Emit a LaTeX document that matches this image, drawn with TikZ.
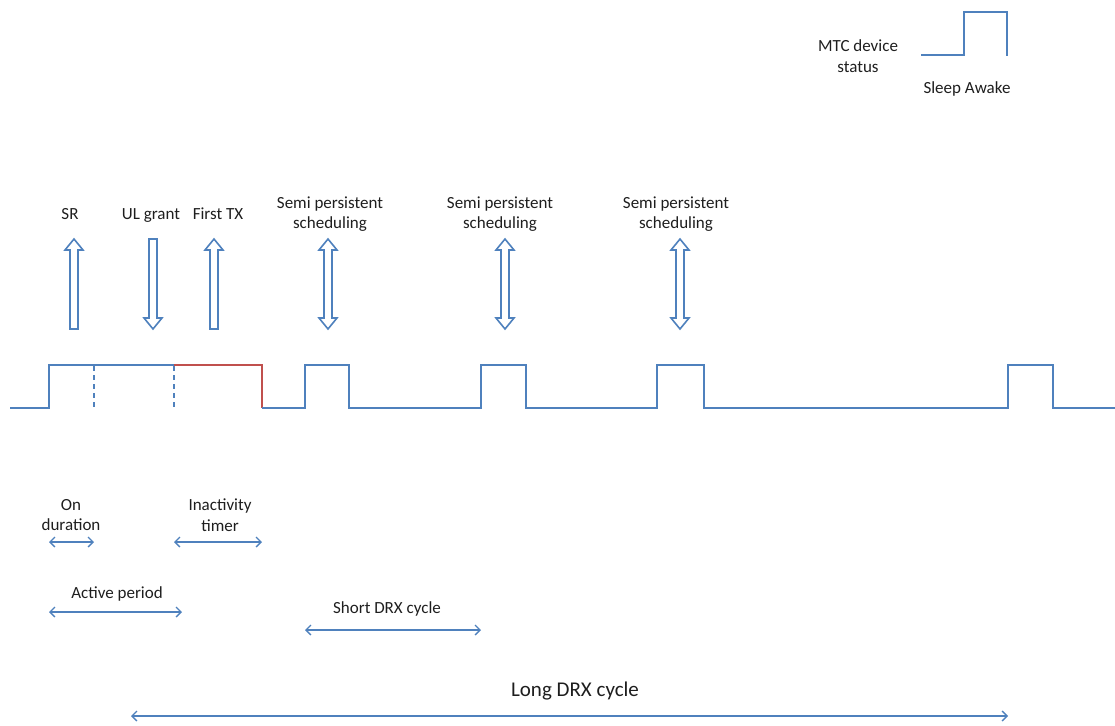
\documentclass[tikz,border=0pt]{standalone}
\usepackage{fontspec}
\setmainfont{Carlito}
\usetikzlibrary{arrows.meta}
\definecolor{sigblue}{RGB}{79,129,189}
\definecolor{sigred}{RGB}{192,80,77}
\definecolor{txt}{RGB}{30,30,30}
\begin{document}
\begin{tikzpicture}[x=1pt,y=-1pt,
  sig/.style={draw=sigblue,line width=1.8pt,line join=miter},
  lbl/.style={text=txt,font=\fontsize{17}{20.5}\selectfont,align=center,inner sep=0pt},
  span/.style={draw=sigblue,line width=1.3pt,{Straight Barb[length=5pt,width=10pt]}-{Straight Barb[length=5pt,width=10pt]}},
  blk/.style={draw=sigblue,line width=1.6pt,fill=white,line join=miter},
  pics/upblk/.style={code={\path[blk] (-4,45) -- (-4,-34) -- (-9,-34) -- (0,-45) -- (9,-34) -- (4,-34) -- (4,45) -- cycle;}},
  pics/downblk/.style={code={\path[blk] (-4,-45) -- (-4,34) -- (-9,34) -- (0,45) -- (9,34) -- (4,34) -- (4,-45) -- cycle;}},
  pics/bothblk/.style={code={\path[blk] (0,-45) -- (9,-34) -- (4,-34) -- (4,34) -- (9,34) -- (0,45) -- (-9,34) -- (-4,34) -- (-4,-34) -- (-9,-34) -- cycle;}}
]
\useasboundingbox (0,0) rectangle (1115,725);

% legend: device status
\node[lbl] (mtc) at (858,56) {MTC device\\status};
\coordinate (s0) at (921,55);
\coordinate (s1) at (964,55);
\coordinate (s2) at (964,12);
\coordinate (s3) at (1007,12);
\coordinate (s4) at (1007,56);
\draw[sig] (s0) -- (s1) -- (s2) -- (s3) -- (s4);
\node[lbl] (sa) at (967,89) {Sleep Awake};

% signalling events (single-line labels share one baseline)
\node[lbl,anchor=base] (sr) at (70,219) {SR};
\node[lbl,anchor=base] (ul) at (151,219) {UL grant};
\node[lbl,anchor=base] (ftx) at (218,219) {First TX};
\node[lbl] (sps1) at (330,214) {Semi persistent\\scheduling};
\node[lbl] (sps2) at (500,214) {Semi persistent\\scheduling};
\node[lbl] (sps3) at (676,214) {Semi persistent\\scheduling};

\pic at (74,284) {upblk};
\pic at (153,284) {downblk};
\pic at (214,284) {upblk};
\pic at (328,284) {bothblk};
\pic at (505,284) {bothblk};
\pic at (680,284) {bothblk};

% activity timeline
\coordinate (t0) at (10,408);
\coordinate (a0) at (49,408);
\coordinate (a1) at (49,365);
\coordinate (r0) at (174,365);
\coordinate (r1) at (262,365);
\coordinate (r2) at (262,408);
\draw[sig] (t0) -- (a0) -- (a1) -- (r0);
\draw[draw=sigred,line width=1.8pt,line join=miter] (r0) -- (r1) -- (r2);
\draw[sig] (r2) -- (305,408) -- (305,365) -- (349,365) -- (349,408)
  -- (481,408) -- (481,365) -- (526,365) -- (526,408)
  -- (657,408) -- (657,365) -- (704,365) -- (704,408)
  -- (1008,408) -- (1008,365) -- (1053,365) -- (1053,408) -- (1115,408);
\draw[draw=sigblue,line width=1.3pt,dash pattern=on 5pt off 4pt] (94,366) -- (94,408);
\draw[draw=sigblue,line width=1.3pt,dash pattern=on 5pt off 4pt] (174,366) -- (174,408);

% durations
\node[lbl] (ond) at (71,515) {On\\duration};
\coordinate (on0) at (49,542);
\coordinate (on1) at (94,542);
\draw[span] (on0) -- (on1);

\node[lbl] (ina) at (220,515) {Inactivity\\timer};
\coordinate (in0) at (174,542);
\coordinate (in1) at (262,542);
\draw[span] (in0) -- (in1);

\node[lbl] (act) at (117,594) {Active period};
\coordinate (ac0) at (49,612);
\coordinate (ac1) at (182,612);
\draw[span] (ac0) -- (ac1);

\node[lbl] (sdrx) at (387,609) {Short DRX cycle};
\coordinate (sd0) at (305,630);
\coordinate (sd1) at (481,630);
\draw[span] (sd0) -- (sd1);

\node[lbl,font=\fontsize{21}{25}\selectfont] (ldrx) at (575,691) {Long DRX cycle};
\coordinate (ld0) at (131,716);
\coordinate (ld1) at (1008,716);
\draw[span] (ld0) -- (ld1);
\end{tikzpicture}
\end{document}
